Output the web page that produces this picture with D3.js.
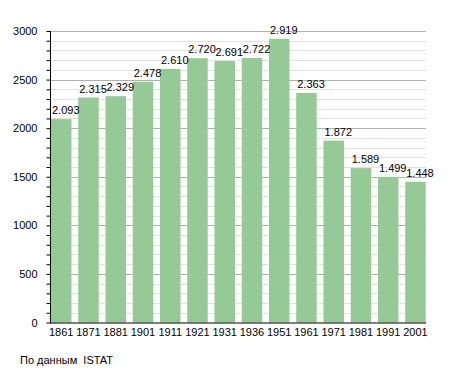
<!DOCTYPE html>
<html><head><meta charset="utf-8">
<script src="https://cdn.jsdelivr.net/npm/d3@7"></script>
<style>body{margin:0;background:#fff}svg{display:block}text{font-family:"Liberation Sans",Arial,sans-serif;}</style>
</head><body><div id="chart"></div>
<script>
const years = ["1861","1871","1881","1901","1911","1921","1931","1936","1951","1961","1971","1981","1991","2001"];
const population = [2093,2315,2329,2478,2610,2720,2691,2722,2919,2363,1872,1589,1499,1448];
const majorTicks = [0,500,1000,1500,2000,2500,3000];
const minorTicks = d3.range(0,3001,100);
const source = "По данным  ISTAT";

const W=455,H=373;
const svg=d3.select("#chart").append("svg").attr("width",W).attr("height",H);
const x0=50, x1=426;
const x=d3.scaleBand().domain(years).range([51,425.7]).paddingInner(0.248).paddingOuter(0);
const y=d3.scaleLinear().domain([0,3000]).range([322.5,31]);

// minor grid
svg.append("g").selectAll("line").data(minorTicks.filter(v=>v%500!==0)).join("line")
  .attr("x1",x0).attr("x2",x1).attr("y1",d=>Math.round(y(d))+0.5).attr("y2",d=>Math.round(y(d))+0.5)
  .attr("stroke","#e2e2e2").attr("stroke-width",1);
// major grid
svg.append("g").selectAll("line").data(majorTicks.filter(v=>v>0)).join("line")
  .attr("x1",x0).attr("x2",x1).attr("y1",d=>Math.round(y(d))+0.5).attr("y2",d=>Math.round(y(d))+0.5)
  .attr("stroke","#b0b0b0").attr("stroke-width",1);

// bars
svg.append("g").selectAll("rect").data(population).join("rect")
  .attr("x",(d,i)=>x(years[i])).attr("width",x.bandwidth())
  .attr("y",d=>y(d)).attr("height",d=>y(0)-y(d))
  .attr("fill","#95c995");

// value labels
const fmt=v=>{const s=String(v);return s.length>3? s.slice(0,s.length-3)+"."+s.slice(-3):s;};
svg.append("g").selectAll("text").data(population).join("text")
  .attr("x",(d,i)=>x(years[i])+1).attr("y",d=>y(d)-5)
  .attr("font-size","11px").attr("fill","#000").text(d=>fmt(d));

// y axis
const yAxis=d3.axisLeft(y).tickValues(minorTicks).tickSize(4).tickFormat(d=>majorTicks.includes(d)?d:"");
const ga=svg.append("g").attr("transform",`translate(${x0+0.5},0)`).call(yAxis);
ga.select(".domain").remove();
ga.selectAll(".tick text").attr("font-size","11px").attr("fill","#000").attr("x",-13).attr("font-family",'"Liberation Sans",Arial,sans-serif');
ga.selectAll(".tick line").attr("stroke","#000");
svg.append("line").attr("x1",x0+0.5).attr("x2",x0+0.5).attr("y1",y(3000)).attr("y2",y(0)+0.5).attr("stroke","#000");

// x axis
svg.append("line").attr("x1",x0).attr("x2",x1).attr("y1",y(0)+0.5).attr("y2",y(0)+0.5).attr("stroke","#000");
svg.append("g").selectAll("text").data(years).join("text")
  .attr("x",d=>x(d)+x.bandwidth()/2).attr("y",336).attr("text-anchor","middle")
  .attr("font-size","11px").attr("fill","#000").text(d=>d);

svg.append("text").attr("x",20).attr("y",364).attr("font-size","11px").attr("fill","#000")
  .style("white-space","pre").attr("xml:space","preserve").text(source);
</script></body></html>
